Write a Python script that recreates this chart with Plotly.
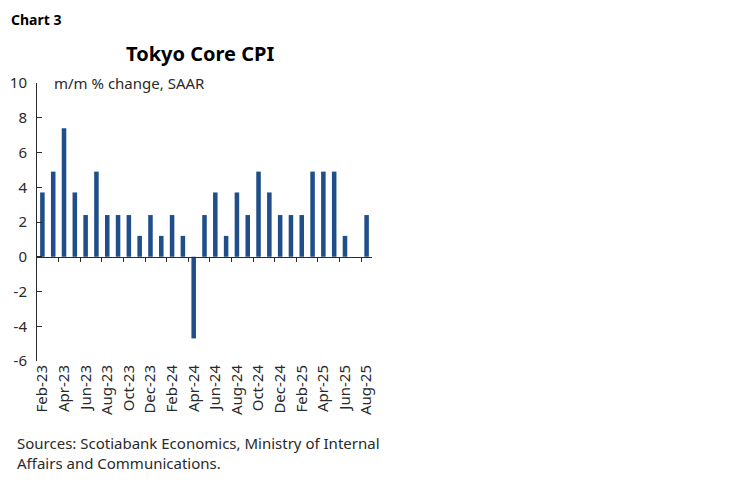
import plotly.graph_objects as go

# Tokyo core CPI, m/m % change SAAR, Feb-23 .. Aug-25
months = [
    "Feb-23", "Mar-23", "Apr-23", "May-23", "Jun-23", "Jul-23", "Aug-23", "Sep-23",
    "Oct-23", "Nov-23", "Dec-23", "Jan-24", "Feb-24", "Mar-24", "Apr-24", "May-24",
    "Jun-24", "Jul-24", "Aug-24", "Sep-24", "Oct-24", "Nov-24", "Dec-24", "Jan-25",
    "Feb-25", "Mar-25", "Apr-25", "May-25", "Jun-25", "Jul-25", "Aug-25",
]
values = [
    3.7, 4.9, 7.4, 3.7, 2.4, 4.9, 2.4, 2.4,
    2.4, 1.2, 2.4, 1.2, 2.4, 1.2, -4.7, 2.4,
    3.7, 1.2, 3.7, 2.4, 4.9, 3.7, 2.4, 2.4,
    2.4, 4.9, 4.9, 4.9, 1.2, 0.0, 2.4,
]
y_ticks = [-6, -4, -2, 0, 2, 4, 6, 8, 10]

FONT = "Noto Sans"
BAR = "#1f4e89"
INK = "#2a2a2a"

# page body margin pushes the figure 8px right/down
OFF = 8
# plot area in page pixels (left, top, right, bottom)
PL, PT, PR, PB = 37 - OFF, 83 - OFF, 372 - OFF, 361 - OFF
W, H = PR - PL, PB - PT


def px2paper(px, py):
    # page pixel -> paper coords
    return (px - OFF - PL) / W, (PB - (py - OFF)) / H


idx = list(range(len(months)))
label_pos = idx[::2]
label_txt = months[::2]
boundaries = [i + 1.5 for i in idx[::2] if i + 1.5 < len(months) - 1]
y_lo, y_hi = y_ticks[0], y_ticks[-1]

fig = go.Figure()
fig.add_trace(go.Bar(x=idx, y=values, marker_color=BAR, width=0.42,
                     marker_line_width=0, showlegend=False))
# invisible trace so the zero-line axis (x2) gets drawn
fig.add_trace(go.Scatter(x=[0], y=[0], xaxis="x2", mode="markers",
                         marker=dict(opacity=0), hoverinfo="skip", showlegend=False))

fig.update_layout(
    width=748 - OFF, height=483 - OFF,
    margin=dict(l=PL, r=748 - OFF - PR, t=PT, b=483 - OFF - PB, autoexpand=False),
    paper_bgcolor="white", plot_bgcolor="white",
    font=dict(family=FONT, size=15, color=INK),
    xaxis=dict(
        range=[-0.5, len(months) - 0.5], automargin=False,
        tickmode="array", tickvals=label_pos, ticktext=label_txt,
        tickangle=-90, ticks="", showgrid=False, zeroline=False,
        showline=False, tickfont=dict(size=15, color=INK),
    ),
    xaxis2=dict(
        overlaying="x", anchor="free", side="bottom", automargin=False,
        position=(0 - y_lo) / (y_hi - y_lo),
        range=[-0.5, len(months) - 0.5],
        tickmode="array", tickvals=boundaries, showticklabels=False,
        ticks="outside", ticklen=4, tickcolor=INK,
        showline=True, linecolor=INK, linewidth=1,
        showgrid=False, zeroline=False,
    ),
    yaxis=dict(
        range=[y_lo, y_hi], automargin=False,
        tickmode="array", tickvals=y_ticks, ticktext=[str(v) for v in y_ticks],
        ticks="inside", ticklen=5, tickcolor=INK,
        showline=True, linecolor=INK, linewidth=1,
        showgrid=False, zeroline=False, ticklabelstandoff=6,
        tickfont=dict(size=15, color=INK),
    ),
    bargap=0.6,
)

x, y = px2paper(9, 8.5)
fig.add_annotation(text="<b>Chart 3</b>", xref="paper", yref="paper", x=x, y=y,
                   xanchor="left", yanchor="top", showarrow=False,
                   font=dict(size=14, color="black"))
x, y = px2paper(200, 53)
fig.add_annotation(text="<b>Tokyo Core CPI</b>", xref="paper", yref="paper", x=x, y=y,
                   xanchor="center", yanchor="middle", showarrow=False,
                   font=dict(size=20, color="black"))
x, y = px2paper(52, 83)
fig.add_annotation(text="m/m % change, SAAR", xref="paper", yref="paper", x=x, y=y,
                   xanchor="left", yanchor="middle", showarrow=False,
                   font=dict(size=15, color=INK))
x, y = px2paper(15, 431)
fig.add_annotation(text="Sources: Scotiabank Economics, Ministry of Internal<br>Affairs and Communications.",
                   xref="paper", yref="paper", x=x, y=y,
                   xanchor="left", yanchor="top", align="left", showarrow=False,
                   font=dict(size=15, color=INK))

fig.write_html("out.html")
